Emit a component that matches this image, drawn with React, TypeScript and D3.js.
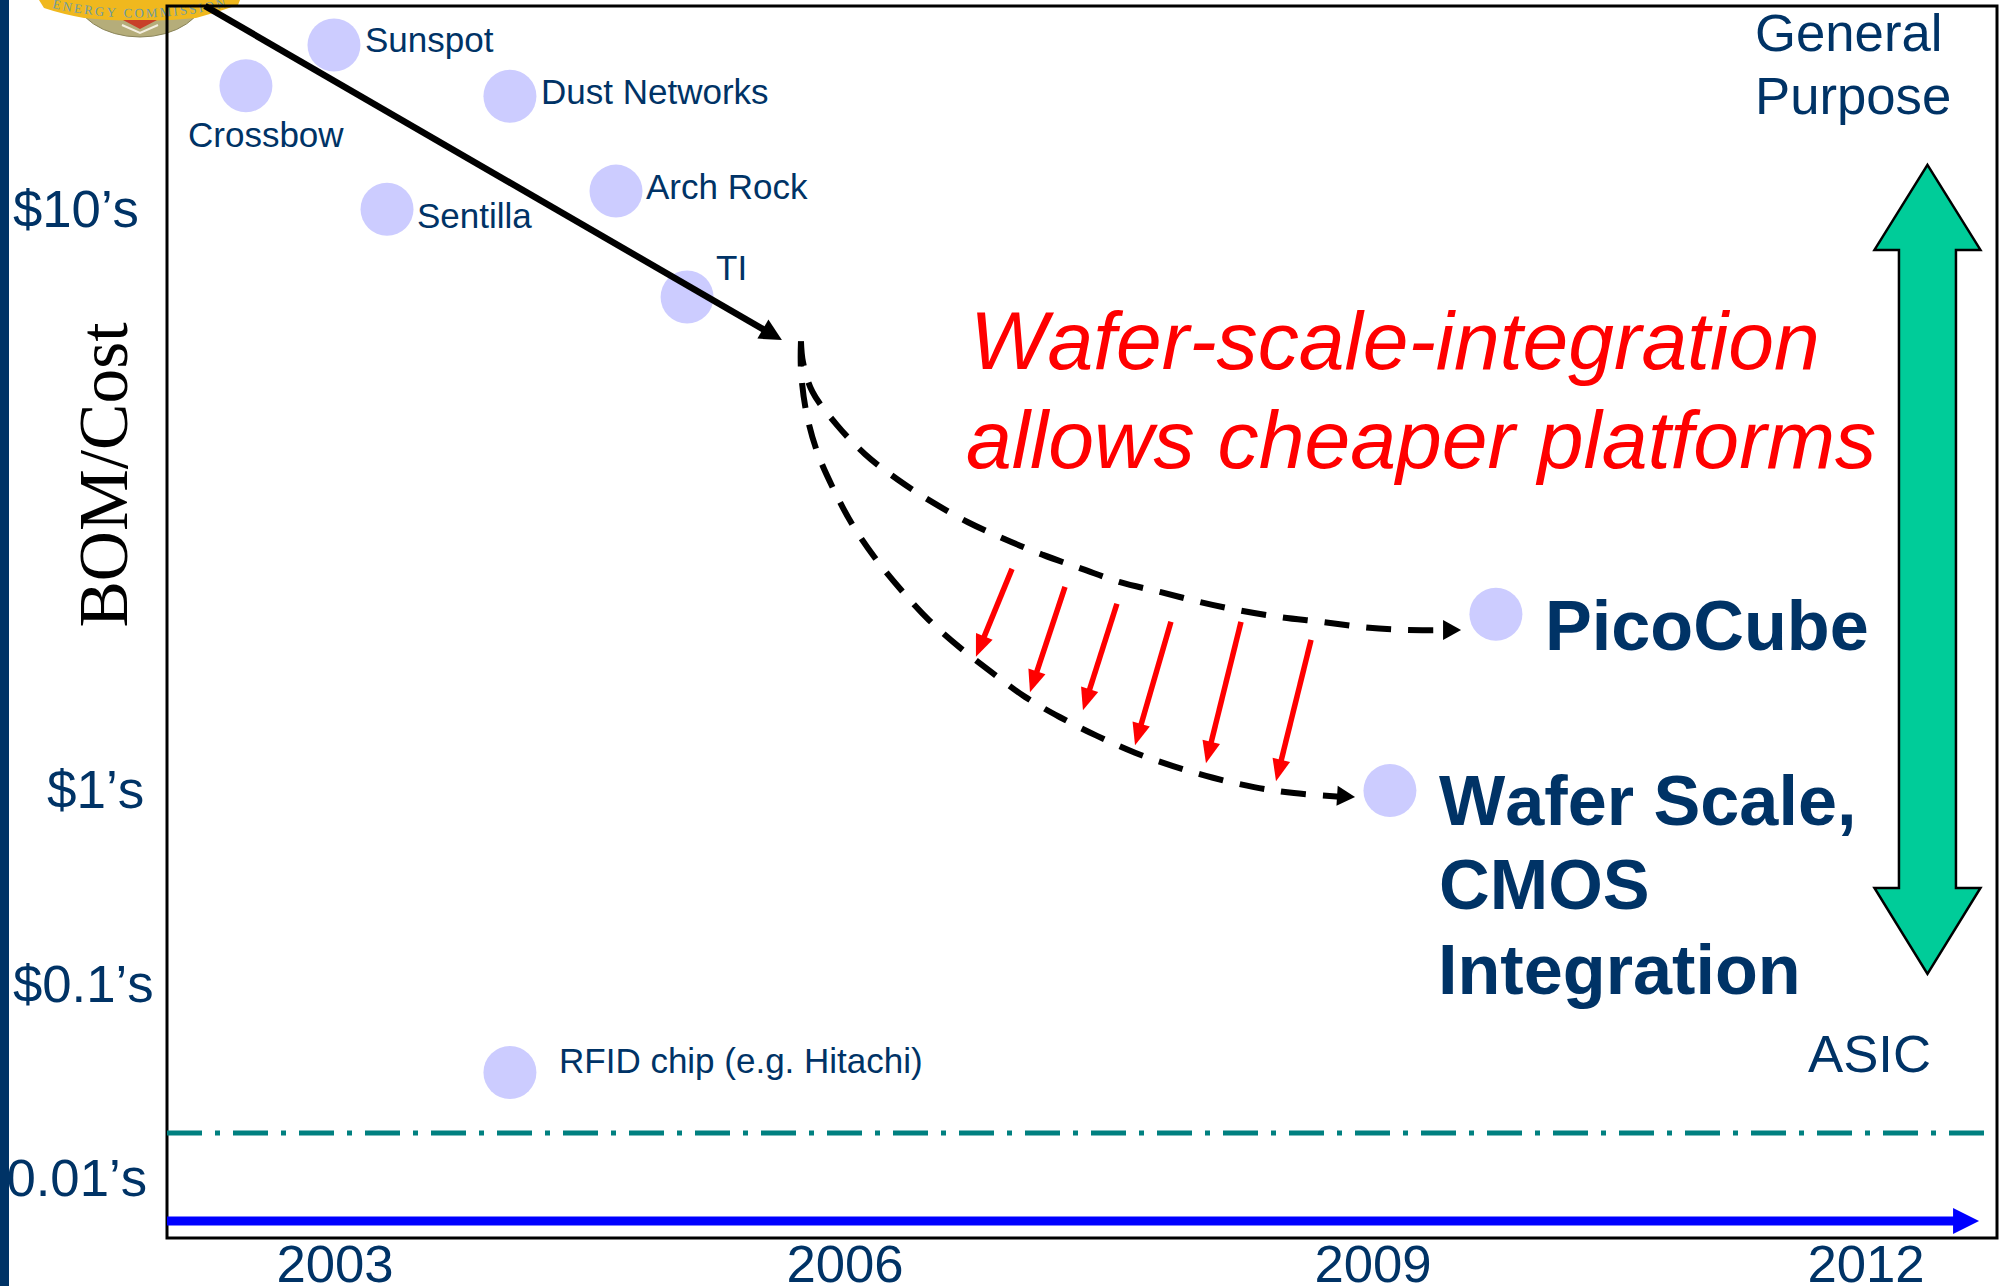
import { useEffect, useRef } from 'react';
import * as d3 from 'd3';

// years on x, log10(dollars) on y
const yearTicks = [2003, 2006, 2009, 2012];
const costTicks = [1, 0, -1, -2];
const costLabels = ['$10’s', '$1’s', '$0.1’s', '0.01’s'];

const platformNames = ['Crossbow', 'Sunspot', 'Dust Networks', 'Sentilla', 'Arch Rock', 'TI', 'RFID chip (e.g. Hitachi)'];
const platformYears = [2002.476, 2002.994, 2004.029, 2003.306, 2004.653, 2005.071, 2004.029];
const platformCosts = [1.21, 1.28, 1.192, 0.998, 1.029, 0.847, -1.461];

const futureYears = [2009.748, 2009.103];
const futureCosts = [0.302, -0.003];

const trendYears = [2002.235, 2005.629];
const trendCosts = [1.347, 0.773];

const upperYears = [2005.741, 2005.753, 2005.809, 2005.953, 2006.114, 2006.301, 2006.494, 2006.699, 2006.909, 2007.125, 2007.347, 2007.563, 2007.795, 2008.017, 2008.25, 2008.477, 2008.705, 2008.937, 2009.189, 2009.536];
const upperCosts = [0.771, 0.735, 0.684, 0.627, 0.577, 0.533, 0.495, 0.46, 0.431, 0.404, 0.38, 0.357, 0.34, 0.323, 0.308, 0.297, 0.289, 0.28, 0.275, 0.275];

const lowerYears = [2005.741, 2005.741, 2005.771, 2005.835, 2005.929, 2006.04, 2006.17, 2006.318, 2006.477, 2006.648, 2006.83, 2007.023, 2007.222, 2007.432, 2007.648, 2007.864, 2008.091, 2008.324, 2008.551, 2008.898];
const lowerCosts = [0.771, 0.722, 0.651, 0.582, 0.519, 0.457, 0.399, 0.344, 0.292, 0.246, 0.203, 0.16, 0.125, 0.093, 0.064, 0.041, 0.021, 0.005, -0.016, -0.036];

const dropStartYears = [2006.949, 2007.25, 2007.545, 2007.852, 2008.25, 2008.648];
const dropStartCosts = [0.38, 0.349, 0.32, 0.289, 0.289, 0.258];
const dropEndYears = [2006.744, 2007.051, 2007.352, 2007.648, 2008.051, 2008.449];
const dropEndCosts = [0.229, 0.168, 0.137, 0.077, 0.046, 0.015];

const asicLimitCost = -1.773;
const timeArrowCost = -2.227;
const timeArrowEnd = 2012.688;
const rangeYear = 2012.374;
const rangeCosts = [1.074, -0.953];

const NAVY = '#003366';
const SANS = '"Liberation Sans", Arial, sans-serif';

const width = 2005;
const height = 1286;
const frame = { left: 167, top: 6, right: 1997, bottom: 1238 };

export default function App() {
  const svgRef = useRef<SVGSVGElement>(null);

  useEffect(() => {
    if (!svgRef.current) return;
    const svg = d3.select(svgRef.current);
    svg.selectAll('*').remove();
    svg.style('font-kerning', 'none');

    // labels in the slide are hand placed, so both scales are piecewise
    const x = d3.scaleLinear().domain(yearTicks).range([335, 845, 1373, 1866]);
    const y = d3.scaleLinear().domain(costTicks).range([208, 790, 983, 1177]);

    const addText = (
      str: string,
      px: number,
      py: number,
      size: number,
      opts: { anchor?: string; weight?: string; italic?: boolean; fill?: string } = {},
    ) =>
      svg
        .append('text')
        .attr('x', px)
        .attr('y', py)
        .attr('font-family', SANS)
        .attr('font-size', size)
        .attr('font-weight', opts.weight ?? 'normal')
        .attr('font-style', opts.italic ? 'italic' : 'normal')
        .attr('text-anchor', opts.anchor ?? 'start')
        .attr('fill', opts.fill ?? NAVY)
        .text(str);

    // filled arrow head pointing along (x0,y0)->(x1,y1)
    const arrowHead = (x0: number, y0: number, x1: number, y1: number, len: number, half: number, fill: string) => {
      const a = Math.atan2(y1 - y0, x1 - x0);
      const bx = x1 - len * Math.cos(a);
      const by = y1 - len * Math.sin(a);
      const nx = -Math.sin(a) * half;
      const ny = Math.cos(a) * half;
      svg
        .append('polygon')
        .attr('points', `${x1},${y1} ${bx + nx},${by + ny} ${bx - nx},${by - ny}`)
        .attr('fill', fill);
    };

    // seal, cut by the top of the slide
    const seal = svg.append('g');
    seal.append('ellipse').attr('cx', 140).attr('cy', -8).attr('rx', 66).attr('ry', 45).attr('fill', '#b5ad7a').attr('stroke', '#8a8458').attr('stroke-width', 1);
    seal
      .append('path')
      .attr('d', 'M39,0 L240,0 L238,5 Q218,12 196,18 Q140,24 84,18 Q62,14 44,8 Z')
      .attr('fill', '#f0b81e');
    seal.append('path').attr('d', 'M123,20 L157,20 L140,29 Z').attr('fill', '#c8402a');
    seal.append('path').attr('d', 'M122,25 L140,33 L158,25').attr('fill', 'none').attr('stroke', '#f4efe0').attr('stroke-width', 2);
    seal.append('path').attr('id', 'seal-arc').attr('d', 'M52,8 Q140,28 232,6').attr('fill', 'none');
    seal
      .append('text')
      .attr('font-family', '"Liberation Serif", serif')
      .attr('font-size', 13)
      .attr('fill', '#6c9ba6')
      .append('textPath')
      .attr('href', '#seal-arc')
      .attr('textLength', 176)
      .text('ENERGY COMMISSION');

    // frame
    svg
      .append('rect')
      .attr('x', frame.left)
      .attr('y', frame.top)
      .attr('width', frame.right - frame.left)
      .attr('height', frame.bottom - frame.top)
      .attr('fill', 'none')
      .attr('stroke', '#000')
      .attr('stroke-width', 3);

    // tick labels
    yearTicks.forEach((d) => addText(String(d), x(d), 1282, 52.7, { anchor: 'middle' }));
    addText(costLabels[0], 13, y(costTicks[0]) + 19, 52.7);
    addText(costLabels[1], 47, y(costTicks[1]) + 18, 53);
    addText(costLabels[2], 13, y(costTicks[2]) + 19, 52.7);
    addText(costLabels[3], 147, y(costTicks[3]) + 19, 52.7, { anchor: 'end' });

    svg
      .append('text')
      .attr('transform', 'translate(127,475) rotate(-90)')
      .attr('text-anchor', 'middle')
      .attr('font-family', '"Liberation Serif", serif')
      .attr('font-size', 69.5)
      .attr('fill', '#000')
      .text('BOM/Cost');

    // lines across the bottom
    svg
      .append('line')
      .attr('x1', frame.left)
      .attr('x2', 1984)
      .attr('y1', y(asicLimitCost))
      .attr('y2', y(asicLimitCost))
      .attr('stroke', '#008080')
      .attr('stroke-width', 5)
      .attr('stroke-dasharray', '35 13 5 13');
    const timeY = y(timeArrowCost);
    const timeEnd = x(timeArrowEnd);
    svg
      .append('line')
      .attr('x1', frame.left)
      .attr('x2', timeEnd - 20)
      .attr('y1', timeY)
      .attr('y2', timeY)
      .attr('stroke', '#0000ff')
      .attr('stroke-width', 9);
    arrowHead(frame.left, timeY, timeEnd, timeY, 26, 13, '#0000ff');

    // platform dots
    svg
      .append('g')
      .selectAll('circle')
      .data([
        ...platformYears.map((d, i) => [d, platformCosts[i]]),
        ...futureYears.map((d, i) => [d, futureCosts[i]]),
      ])
      .join('circle')
      .attr('cx', (d) => x(d[0]))
      .attr('cy', (d) => y(d[1]))
      .attr('r', 26.5)
      .attr('fill', '#ccccff');

    const labelPos: [number, number][] = [
      [188, 147],
      [365, 52],
      [541, 104],
      [417, 228],
      [646, 199],
      [716, 280],
      [559, 1073],
    ];
    platformNames.forEach((name, i) => addText(name, labelPos[i][0], labelPos[i][1], 35));

    // solid trend
    const tx0 = x(trendYears[0]);
    const ty0 = y(trendCosts[0]);
    const tx1 = x(trendYears[1]);
    const ty1 = y(trendCosts[1]);
    const trendA = Math.atan2(ty1 - ty0, tx1 - tx0);
    svg
      .append('line')
      .attr('x1', tx0)
      .attr('y1', ty0)
      .attr('x2', tx1 - 12 * Math.cos(trendA))
      .attr('y2', ty1 - 12 * Math.sin(trendA))
      .attr('stroke', '#000')
      .attr('stroke-width', 6.5);
    arrowHead(tx0, ty0, tx1, ty1, 22, 11, '#000');

    // dashed projections
    const lineGen = d3
      .line<[number, number]>()
      .x((d) => d[0])
      .y((d) => d[1])
      .curve(d3.curveCatmullRom);
    const drawProjection = (years: number[], costs: number[]) => {
      const pts = years.map((d, i) => [x(d), y(costs[i])] as [number, number]);
      const last = pts[pts.length - 1];
      const prev = pts[pts.length - 2];
      svg
        .append('path')
        .attr('d', lineGen(pts.slice(0, -1).concat([[last[0] - 12, last[1]]])))
        .attr('fill', 'none')
        .attr('stroke', '#000')
        .attr('stroke-width', 6)
        .attr('stroke-dasharray', '25 17');
      arrowHead(prev[0], prev[1], last[0], last[1], 18, 10, '#000');
    };
    drawProjection(upperYears, upperCosts);
    drawProjection(lowerYears, lowerCosts);

    // red drops between the two projections
    dropStartYears.forEach((d, i) => {
      const sx = x(d);
      const sy = y(dropStartCosts[i]);
      const ex = x(dropEndYears[i]);
      const ey = y(dropEndCosts[i]);
      const a = Math.atan2(ey - sy, ex - sx);
      svg
        .append('line')
        .attr('x1', sx)
        .attr('y1', sy)
        .attr('x2', ex - 12 * Math.cos(a))
        .attr('y2', ey - 12 * Math.sin(a))
        .attr('stroke', '#ff0000')
        .attr('stroke-width', 5.5);
      arrowHead(sx, sy, ex, ey, 22, 9, '#ff0000');
    });

    // green general purpose <-> ASIC arrow
    const gx = x(rangeYear);
    const gTop = y(rangeCosts[0]);
    const gBot = y(rangeCosts[1]);
    const headLen = 85;
    const headHalf = 53;
    const shaftHalf = 28.5;
    const green = d3.path();
    green.moveTo(gx, gTop);
    green.lineTo(gx + headHalf, gTop + headLen);
    green.lineTo(gx + shaftHalf, gTop + headLen);
    green.lineTo(gx + shaftHalf, gBot - headLen - 1);
    green.lineTo(gx + headHalf, gBot - headLen - 1);
    green.lineTo(gx, gBot);
    green.lineTo(gx - headHalf, gBot - headLen - 1);
    green.lineTo(gx - shaftHalf, gBot - headLen - 1);
    green.lineTo(gx - shaftHalf, gTop + headLen);
    green.lineTo(gx - headHalf, gTop + headLen);
    green.closePath();
    svg
      .append('path')
      .attr('d', green.toString())
      .attr('fill', '#00cc99')
      .attr('stroke', '#000')
      .attr('stroke-width', 2.5);

    // annotations
    addText('General', 1755, 51, 52.7);
    addText('Purpose', 1755, 114, 52.7);
    addText('ASIC', 1808, 1072, 52.7);
    addText('Wafer-scale-integration', 970, 369, 82.2, { italic: true, fill: '#ff0000' });
    addText('allows cheaper platforms', 966, 468, 82.3, { italic: true, fill: '#ff0000' });
    addText('PicoCube', 1545, 650, 70.2, { weight: 'bold' });
    addText('Wafer Scale,', 1439, 825, 70.2, { weight: 'bold' });
    addText('CMOS', 1439, 909, 70.2, { weight: 'bold' });
    addText('Integration', 1438, 994, 70.2, { weight: 'bold' });

    // slide's left bar sits on top of the labels
    svg.append('rect').attr('x', 0).attr('y', 0).attr('width', 9).attr('height', height).attr('fill', NAVY);
  }, []);

  return (
    <svg
      ref={svgRef}
      width={width}
      height={height}
      style={{ position: 'absolute', left: 0, top: 0, background: '#fff' }}
    />
  );
}
